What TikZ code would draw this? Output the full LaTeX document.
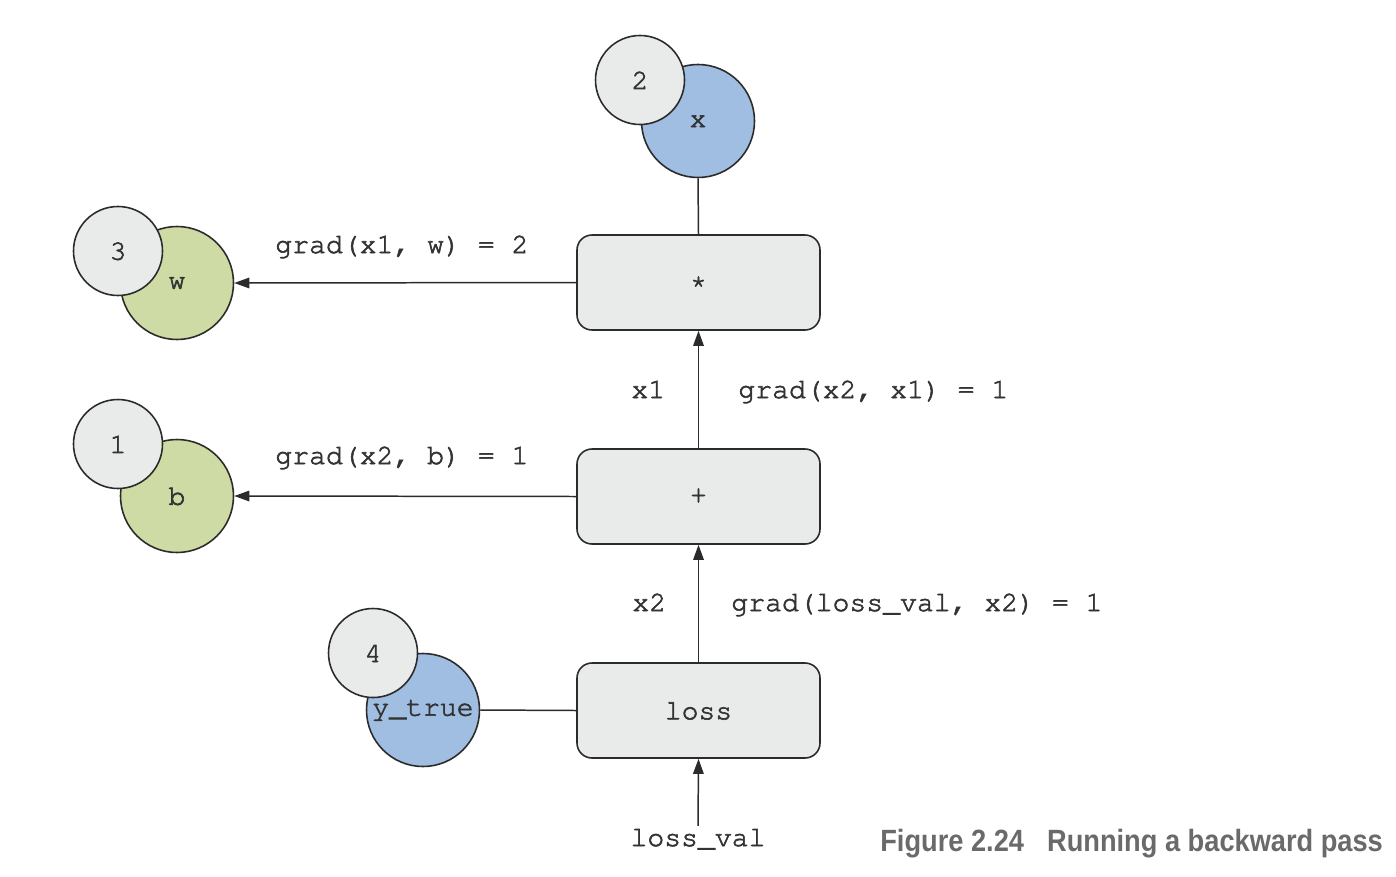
\documentclass[tikz,border=0pt]{standalone}
\usepackage{fontspec}
\setmainfont{Liberation Sans}
\newfontfamily\capfont[FakeStretch=0.885]{Liberation Sans}
\newcommand{\codefont}{\fontencoding{T1}\fontfamily{pcr}\fontseries{m}\fontshape{n}\fontsize{16}{19}\selectfont}
% slightly heavier strokes for the typewriter text
\newcommand{\heavyon}{\special{pdf:literal direct 2 Tr 0.35 w}}
\newcommand{\heavyoff}{\special{pdf:literal direct 0 Tr}}
\usetikzlibrary{arrows.meta}
\definecolor{ink}{HTML}{2B2B2B}
\definecolor{txt}{HTML}{333333}
\definecolor{boxfill}{HTML}{E9EAEA}
\definecolor{bluefill}{HTML}{A0BDE2}
\definecolor{greenfill}{HTML}{CFDBA4}
\definecolor{capgray}{HTML}{6A6A6A}
\tikzset{
  mono/.style={font=\codefont, text=txt,
    execute at begin node=\heavyon, execute at end node=\heavyoff},
  opbox/.style={mono, draw=ink, line width=0.9pt, fill=boxfill, rounded corners=0.3cm,
    minimum width=4.86cm, minimum height=1.9cm},
  bigcirc/.style={mono, circle, draw=ink, line width=0.9pt, minimum size=2.26cm, inner sep=0pt},
  badge/.style={mono, circle, draw=ink, line width=0.9pt, fill=boxfill, minimum size=1.78cm, inner sep=0pt},
  lbl/.style={mono, inner sep=0pt, anchor=base west},
  conn/.style={draw=ink, line width=0.85pt},
  arr/.style={conn, -{Triangle[length=3mm,width=2.1mm]}}
}
\begin{document}
\begin{tikzpicture}
\useasboundingbox (0,0) rectangle (27.92,-17.52);

% operation boxes
\node[opbox] (mul) at (13.97,-5.65) {*};
\node[opbox] (add) at (13.97,-9.93) {+};
\node[opbox] (loss) at (13.97,-14.21) {loss};

% variables, each with its order badge on top
\node[bigcirc, fill=bluefill] (x) at (13.96,-2.42) {x};
\node[badge] (n2) at (12.8,-1.6) {2};
\node[bigcirc, fill=greenfill] (w) at (3.54,-5.66) {w};
\node[badge] (n3) at (2.36,-5.02) {3};
\node[bigcirc, fill=greenfill] (b) at (3.54,-9.92) {b};
\node[badge] (n1) at (2.36,-8.88) {1};
\node[bigcirc, fill=bluefill] (yt) at (8.46,-14.2) {y\_true};
\node[badge] (n4) at (7.46,-13.06) {4};

% incoming gradient
\node[mono, inner sep=1pt, anchor=base] (lv) at (13.96,-16.92) {loss\_val};

% connectors
\draw[conn] (x.south) -- (mul.north);
\draw[conn] (yt.east) -- (loss.west);
\draw[arr] (lv.north) -- (loss.south);
\draw[arr] (loss.north) -- (add.south);
\draw[arr] (add.north) -- (mul.south);
\draw[arr] (mul.west) -- (w.east);
\draw[arr] (add.west) -- (b.east);

% gradient labels
\node[lbl] (g1) at (5.50,-5.06) {grad(x1, w) = 2};
\node[lbl] (g2) at (5.50,-9.28) {grad(x2, b) = 1};
\node[lbl] (l1) at (12.62,-7.96) {x1};
\node[lbl] (g3) at (14.76,-7.96) {grad(x2, x1) = 1};
\node[lbl] (l2) at (12.64,-12.22) {x2};
\node[lbl] (g4) at (14.62,-12.22) {grad(loss\_val, x2) = 1};

% caption
\node[anchor=base west, inner sep=0pt, text=capgray, font=\capfont\bfseries\fontsize{17.5}{20}\selectfont] (cap)
  at (17.6,-17.02) {Figure 2.24\hspace{0.75em}Running a backward pass};
\end{tikzpicture}
\end{document}
